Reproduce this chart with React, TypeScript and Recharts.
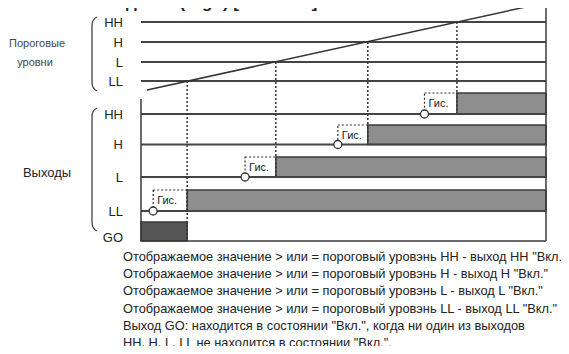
import React from 'react'
import {
  ComposedChart,
  Line,
  XAxis,
  YAxis,
  ReferenceLine,
  ReferenceArea,
  ReferenceDot,
} from 'recharts'

// time runs 0..100 across the diagram, vertical units are shared by both sections
const levels = ['HH', 'H', 'L', 'LL']
const thresholdValues = [219, 199, 179, 160]
const rampTimes = [1.5, 100]
const rampValues = [151, 238.5]
const switchOnTimes = [78, 56, 33.3, 11.4]
const hysteresisTimes = [70, 48.6, 25.7, 3]
const outputLow = [127, 96.5, 64, 30]
const outputHigh = [148, 116, 84, 51]
const dottedEnds = [148, 116, 84, 0]
const goLow = 0
const goHigh = 19
const goLabelAt = 4
const timeEnd = 100
const outputFrameTop = 142

const notes = [
  'Отображаемое значение > или = пороговый уровэнь HH - выход HH "Вкл."',
  'Отображаемое значение > или = пороговый уровэнь H - выход H "Вкл."',
  'Отображаемое значение > или = пороговый уровэнь L - выход L "Вкл."',
  'Отображаемое значение > или = пороговый уровэнь LL - выход LL "Вкл."',
  'Выход GO: находится в состоянии "Вкл.", когда ни один из выходов',
  'HH, H, L, LL не находится в состоянии "Вкл.".',
]

const ramp = rampTimes.map((t, i) => ({ t, v: rampValues[i] }))

const tickNames: Record<number, string> = { [goLabelAt]: 'GO' }
levels.forEach((name, i) => {
  tickNames[thresholdValues[i]] = name
  tickNames[outputLow[i]] = name
})
const ticks = [...thresholdValues, ...outputLow, goLabelAt]

const ink = '#3a3a3a'

export default function App() {
  return (
    <div
      style={{
        position: 'relative',
        margin: -8,
        width: 569,
        height: 354,
        overflow: 'hidden',
        background: '#fff',
        fontFamily: '"Liberation Sans", Arial, sans-serif',
      }}
    >
      <ComposedChart width={569} height={354} margin={{ top: 2, right: 23, bottom: 113, left: 0 }}>
        <XAxis type="number" dataKey="t" domain={[0, timeEnd]} hide />
        <YAxis
          type="number"
          domain={[0, 239]}
          ticks={ticks}
          interval={0}
          width={141}
          axisLine={false}
          tickLine={false}
          tickSize={0}
          tickMargin={18}
          tickFormatter={(v: number) => tickNames[v] ?? ''}
          tick={{ fill: '#222', fontSize: 13 }}
        />

        {thresholdValues.map((v) => (
          <ReferenceLine key={'th' + v} y={v} stroke="#444" strokeWidth={2} />
        ))}
        {outputLow.map((v) => (
          <ReferenceLine key={'out' + v} y={v} stroke="#444" strokeWidth={2} />
        ))}

        {/* frame */}
        <ReferenceLine segment={[{ x: 0, y: goLow }, { x: 0, y: outputFrameTop }]} stroke={ink} strokeWidth={1.5} />
        <ReferenceLine segment={[{ x: timeEnd, y: goLow }, { x: timeEnd, y: rampValues[1] }]} stroke={ink} strokeWidth={1.5} />
        <ReferenceLine segment={[{ x: 0, y: goLow }, { x: timeEnd, y: goLow }]} stroke={ink} strokeWidth={1.5} />

        {/* outputs switched on */}
        {levels.map((name, i) => (
          <ReferenceArea
            key={'bar' + name}
            x1={switchOnTimes[i]}
            x2={timeEnd}
            y1={outputLow[i]}
            y2={outputHigh[i]}
            fill="#8e8e8e"
            fillOpacity={1}
            stroke={ink}
            strokeWidth={1.5}
          />
        ))}
        <ReferenceArea x1={0} x2={switchOnTimes[3]} y1={goLow} y2={goHigh} fill="#555" fillOpacity={1} stroke={ink} strokeWidth={1.5} />

        {/* hysteresis */}
        {levels.map((name, i) => (
          <ReferenceArea
            key={'hys' + name}
            x1={hysteresisTimes[i]}
            x2={switchOnTimes[i]}
            y1={outputLow[i]}
            y2={outputHigh[i]}
            fill="none"
            fillOpacity={0}
            stroke="#333"
            strokeWidth={1.2}
            strokeDasharray="2 2"
            label={{ value: 'Гис.', position: 'insideLeft', offset: 4, fill: '#222', fontSize: 11 }}
          />
        ))}

        {levels.map((name, i) => (
          <ReferenceLine
            key={'drop' + name}
            segment={[
              { x: switchOnTimes[i], y: thresholdValues[i] },
              { x: switchOnTimes[i], y: dottedEnds[i] },
            ]}
            stroke="#333"
            strokeWidth={1.5}
            strokeDasharray="2 2"
          />
        ))}

        {levels.map((name, i) => (
          <ReferenceDot
            key={'dot' + name}
            x={hysteresisTimes[i]}
            y={outputLow[i]}
            r={4}
            fill="#fff"
            stroke="#333"
            strokeWidth={1.3}
          />
        ))}

        <Line data={ramp} dataKey="v" stroke="#333" strokeWidth={1.5} dot={false} isAnimationActive={false} />
      </ComposedChart>

      <svg width={569} height={354} style={{ position: 'absolute', left: 0, top: 0, pointerEvents: 'none' }}>
        <text x={-3} y={8} fontSize={17} fontWeight="bold" fill="#222">②</text>
        <text x={22} y={8} fontSize={17} fontWeight="bold" fill="#222">Режим выходов H (High) [ USC - H ]</text>

        <path d="M97,17 Q92,19 92,26 L92,82 Q92,89 97,91" fill="none" stroke="#444" strokeWidth={1.3} />
        <path d="M97,108 Q92,110 92,117 L92,222 Q92,229 97,231" fill="none" stroke="#444" strokeWidth={1.3} />

        <text x={37} y={47} fontSize={11} fill="#444" textAnchor="middle">Пороговые</text>
        <text x={35} y={66} fontSize={11} fill="#444" textAnchor="middle">уровни</text>
        <text x={47} y={177} fontSize={13} fill="#222" textAnchor="middle">Выходы</text>

        {notes.map((line, i) => (
          <text key={i} x={123} y={261 + i * 17.2} fontSize={12.8} fill="#222">{line}</text>
        ))}
      </svg>
    </div>
  )
}
